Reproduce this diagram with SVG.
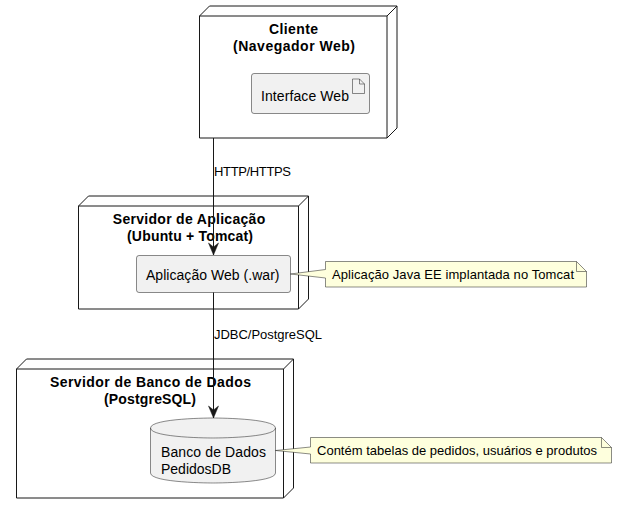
<svg xmlns="http://www.w3.org/2000/svg" width="617" height="514" viewBox="0 0 617 514">
<style>
text{font-family:"Liberation Sans",Arial,sans-serif;fill:#000}
.t{font-size:14px;font-weight:bold;text-anchor:middle}
.c{font-size:14px}
.l{font-size:13px}
.n{font-size:13px}
.box{fill:none;stroke:#181818;stroke-width:1}
.art{fill:#F1F1F1;stroke:#181818;stroke-width:.5}
.note{fill:#FEFFDD;stroke:#181818;stroke-width:.5}
.con{fill:none;stroke:#181818;stroke-width:1}
</style>
<defs>
<marker id="arr" markerUnits="userSpaceOnUse" markerWidth="14" markerHeight="14" refX="12" refY="5" orient="auto" overflow="visible">
<path d="M0,0 L12,5 L0,10 L4,5 Z" fill="#181818" stroke="#181818" stroke-width=".5"/>
</marker>
</defs>
<g id="node-cliente">
<path class="box" d="M199.500,16 L209.500,6 L397,6 L397,128 L387,138 L199.500,138 Z M199.500,16 L387,16 L387,138 M387,16 L397,6"/>
<text class="t" x="293.500" y="34" textLength="49" lengthAdjust="spacing">Cliente</text>
<text class="t" x="294" y="51" textLength="122" lengthAdjust="spacing">(Navegador Web)</text>
</g>
<g id="node-interface">
<rect class="art" x="251.500" y="73.500" width="118" height="40" rx="2.500"/>
<path d="M352.500,79 L352.500,93.500 L364.500,93.500 L364.500,84 L359.500,79 Z M359.500,79 L359.500,84 L364.500,84" fill="none" stroke="#181818" stroke-width=".5"/>
<text class="c" x="261" y="101" textLength="88" lengthAdjust="spacing">Interface Web</text>
</g>
<g id="node-servidor-app">
<path class="box" d="M78.500,206 L88.500,196 L308.500,196 L308.500,299 L298.500,309 L78.500,309 Z M78.500,206 L298.500,206 L298.500,309 M298.500,206 L308.500,196"/>
<text class="t" x="189" y="224" textLength="152.500" lengthAdjust="spacing">Servidor de Aplicação</text>
<text class="t" x="190" y="241" textLength="126" lengthAdjust="spacing">(Ubuntu + Tomcat)</text>
</g>
<g id="node-aplicacao">
<rect class="art" x="136.500" y="255.500" width="154" height="37" rx="2.500"/>
<text class="c" x="146" y="280" textLength="133.500" lengthAdjust="spacing">Aplicação Web (.war)</text>
</g>
<g id="note-aplicacao">
<path class="note" d="M325.500,261.500 L325.500,269.500 L290.500,274 L325.500,278 L325.500,287 L586.500,287 L586.500,271.500 L576.500,261.500 Z M576.500,261.500 L576.500,271.500 L586.500,271.500"/>
<text class="n" x="332" y="279" textLength="242" lengthAdjust="spacing">Aplicação Java EE implantada no Tomcat</text>
</g>
<g id="node-servidor-bd">
<path class="box" d="M16.500,369 L26.500,359 L293.500,359 L293.500,488 L283.500,498 L16.500,498 Z M16.500,369 L283.500,369 L283.500,498 M283.500,369 L293.500,359"/>
<text class="t" x="150.500" y="387" textLength="201" lengthAdjust="spacing">Servidor de Banco de Dados</text>
<text class="t" x="150" y="404" textLength="92" lengthAdjust="spacing">(PostgreSQL)</text>
</g>
<g id="node-banco">
<path class="art" d="M150.500,428 C150.500,418 213,418 213,418 C213,418 275.500,418 275.500,428 L275.500,473 C275.500,483 213,483 213,483 C213,483 150.500,483 150.500,473 Z"/>
<path d="M150.500,428 C150.500,438 213,438 213,438 C213,438 275.500,438 275.500,428" fill="none" stroke="#181818" stroke-width=".5"/>
<text class="c" x="161" y="457" textLength="105" lengthAdjust="spacing">Banco de Dados</text>
<text class="c" x="161" y="474" textLength="70" lengthAdjust="spacing">PedidosDB</text>
</g>
<g id="note-banco">
<path class="note" d="M310.500,437.500 L310.500,447 L275.500,450.500 L310.500,454 L310.500,463 L611.500,463 L611.500,447.500 L601.500,437.500 Z M601.500,437.500 L601.500,447.500 L611.500,447.500"/>
<text class="n" x="317" y="455" textLength="280" lengthAdjust="spacing">Contém tabelas de pedidos, usuários e produtos</text>
</g>
<g id="connectors">
<path class="con" d="M213.500,138 L213.500,255" marker-end="url(#arr)"/>
<path class="con" d="M213.500,292.500 L213.500,418" marker-end="url(#arr)"/>
<text class="l" x="214" y="176" textLength="77" lengthAdjust="spacing">HTTP/HTTPS</text>
<text class="l" x="214" y="339" textLength="108" lengthAdjust="spacing">JDBC/PostgreSQL</text>
</g>
</svg>
